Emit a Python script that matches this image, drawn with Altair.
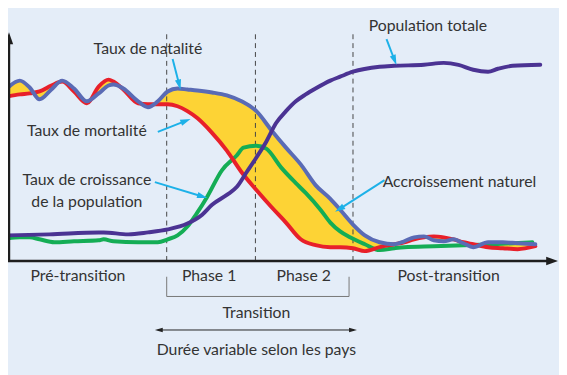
import altair as alt
import pandas as pd
import numpy as np

# ---------------- data (time in arbitrary units, level = rate height) ----------------
t_rates = [8, 20, 30, 40, 52, 63, 75, 88, 100, 110, 115, 125, 140, 150, 160, 170, 180, 190, 200,
           215, 230, 245, 260, 275, 290, 305, 320, 335, 345, 358, 370, 385, 400, 410, 420, 430,
           440, 450, 460, 470, 480, 495, 510, 525, 543]
natalite = [176, 183, 176, 164, 174, 183, 175, 162, 170, 178, 179, 175, 162, 156, 162, 172, 175, 174, 173,
            171, 168, 162, 152, 133, 115, 98, 77, 63, 52, 37, 26, 19, 17, 20, 24, 25,
            21, 20, 22, 18, 14, 19, 19, 18, 17]
mortalite = [167, 169, 170, 172, 178, 182, 172, 160, 177, 184, 182, 174, 160, 159, 159, 159, 157, 152, 145,
             130, 112, 90, 72, 55, 39, 22, 16, 14, 14, 13, 10, 14, 17, 19, 22, 24,
             25, 24, 22, 19, 17, 14, 13, 12, 15]

t_croissance = [8, 20, 30, 40, 55, 75, 100, 105, 115, 140, 160, 170, 180, 190, 200, 210, 225, 240, 247,
                260, 270, 285, 300, 310, 325, 335, 345, 355, 370, 385, 400, 410, 440, 470, 500, 540]
croissance = [23, 24, 24, 22, 19, 20, 21, 22, 20, 19, 19, 22, 26, 35, 49, 65, 92, 107, 115,
              117, 114, 95, 79, 69, 52, 39, 30, 24, 17, 11, 13, 14, 15, 16, 17, 19]

t_population = [8, 50, 100, 105, 130, 150, 170, 190, 205, 215, 230, 240, 250, 260, 270, 280, 290, 300,
                310, 320, 335, 345, 358, 385, 400, 430, 450, 465, 480, 495, 505, 520, 548]
population = [26, 27, 29, 29, 27, 29, 32, 38, 47, 57, 67, 75, 90, 105, 121, 140, 152, 162,
              169, 175, 183, 187, 192, 197, 198, 199, 201, 199, 194, 192, 195, 198, 199]

phase_bounds = [169, 259, 358]

labels = ["Taux de natalité", "Taux de mortalité", "Taux de croissance", "de la population",
          "Accroissement naturel", "Population totale", "Pré-transition", "Phase 1", "Phase 2",
          "Post-transition", "Transition", "Durée variable selon les pays"]
label_t = [150, 88, 88, 88, 466, 434, 79, 212, 308, 455, 260, 260]
label_v = [215, 132, 82, 60, 80, 238, -15, -15, -15, -15, -53, -90]

# pointer arrows: start -> tip
arr_t1 = [175, 160, 157, 390, 392]
arr_v1 = [205, 131, 80, 82, 225]
arr_t2 = [183, 193, 210, 340, 402]
arr_v2 = [174, 144, 64, 50, 199]

# ---------------- styling ----------------
FONT = "Lato"
TXT = "#333333"
BG = "#E4EDF8"
W, H = 559, 367
X = alt.Scale(domain=[8, 567], nice=False, zero=False)
Y = alt.Scale(domain=[-113, 254], nice=False, zero=False)


def enc(x, y, **kw):
    return dict(x=alt.X(f"{x}:Q", scale=X, axis=None),
                y=alt.Y(f"{y}:Q", scale=Y, axis=None), **kw)


def heads(t_tip, v_tip, t_from, v_from, back):
    t_tip = np.asarray(t_tip, float); v_tip = np.asarray(v_tip, float)
    dx = t_tip - np.asarray(t_from, float); dy = v_tip - np.asarray(v_from, float)
    n = np.hypot(dx, dy)
    ux, uy = dx / n, dy / n
    ang = np.degrees(np.arctan2(dx, dy)) % 360
    return t_tip - ux * back, v_tip - uy * back, ang


rates = pd.DataFrame({"t": t_rates, "nat": natalite, "mort": mortalite})
grow = pd.DataFrame({"t": t_croissance, "v": croissance})
pop = pd.DataFrame({"t": t_population, "v": population})

line_kw = dict(strokeWidth=4, interpolate="monotone", strokeCap="round", strokeJoin="round")

area = alt.Chart(rates).mark_area(color="#FDD335", interpolate="monotone").encode(
    **enc("t", "mort"), y2="nat:Q")
l_green = alt.Chart(grow).mark_line(color="#14AD55", **line_kw).encode(**enc("t", "v"))
l_red = alt.Chart(rates).mark_line(color="#E8202A", **line_kw).encode(**enc("t", "mort"))
l_blue = alt.Chart(rates).mark_line(color="#5A6BB5", **line_kw).encode(**enc("t", "nat"))
l_purple = alt.Chart(pop).mark_line(color="#4B3393", **line_kw).encode(**enc("t", "v"))

dash = pd.DataFrame({"t": phase_bounds, "v0": [0] * 3, "v1": [232] * 3})
dashed = alt.Chart(dash).mark_rule(color="#444444", strokeWidth=1, strokeDash=[5, 4]).encode(
    **enc("t", "v0"), y2="v1:Q")

# axes
axes_df = pd.DataFrame({"t": [9, 0], "v": [0, 0], "t2": [9, 557], "v2": [224, 0]})
axes = alt.Chart(axes_df).mark_rule(color="#1E1E1E", strokeWidth=2.5).encode(
    **enc("t", "v"), x2="t2:Q", y2="v2:Q")
ah_t, ah_v, ah_a = heads([9, 566], [232, 0], [9, 0], [0, 0], 6)
axis_heads = alt.Chart(pd.DataFrame({"t": ah_t, "v": ah_v, "a": ah_a})).mark_point(
    shape="M0,-1L-0.7,1L0.7,1Z", filled=True, color="#1E1E1E", size=144, opacity=1, strokeWidth=0
).encode(**enc("t", "v"), angle=alt.Angle("a:Q", scale=None))

# pointer arrows
ph_t, ph_v, ph_a = heads(arr_t2, arr_v2, arr_t1, arr_v1, 5)
arr_df = pd.DataFrame({"t": arr_t1, "v": arr_v1, "t2": ph_t, "v2": ph_v, "ht": ph_t, "hv": ph_v, "a": ph_a})
arr_lines = alt.Chart(arr_df).mark_rule(color="#1DB1E8", strokeWidth=2).encode(
    **enc("t", "v"), x2="t2:Q", y2="v2:Q")
arr_heads = alt.Chart(arr_df).mark_point(
    shape="M0,-1L-0.6,1L0.6,1Z", filled=True, color="#1DB1E8", size=110, opacity=1, strokeWidth=0
).encode(**enc("ht", "hv"), angle=alt.Angle("a:Q", scale=None))

# transition bracket
br = pd.DataFrame({"t": [169, 354, 169], "v": [-16, -16, -36], "t2": [169, 354, 354], "v2": [-36, -36, -36]})
bracket = alt.Chart(br).mark_rule(color="#777777", strokeWidth=1).encode(
    **enc("t", "v"), x2="t2:Q", y2="v2:Q")

# duration double arrow
dur = pd.DataFrame({"t": [160], "v": [-70], "t2": [359], "v2": [-70]})
dur_line = alt.Chart(dur).mark_rule(color="#222222", strokeWidth=1).encode(
    **enc("t", "v"), x2="t2:Q", y2="v2:Q")
dh_t, dh_v, dh_a = heads([157, 362], [-70, -70], [260, 260], [-70, -70], 4)
dur_heads = alt.Chart(pd.DataFrame({"t": dh_t, "v": dh_v, "a": dh_a})).mark_point(
    shape="M0,-1L-0.55,1L0.55,1Z", filled=True, color="#222222", size=64, opacity=1, strokeWidth=0
).encode(**enc("t", "v"), angle=alt.Angle("a:Q", scale=None))

texts = alt.Chart(pd.DataFrame({"t": label_t, "v": label_v, "s": labels})).mark_text(
    font=FONT, fontSize=16, color=TXT, align="center", baseline="middle"
).encode(**enc("t", "v"), text="s:N")

chart = alt.layer(
    area, dashed, l_green, l_red, l_blue, l_purple, axes, axis_heads,
    arr_lines, arr_heads, bracket, dur_line, dur_heads, texts
).properties(
    width=W, height=H, padding=0, autosize=alt.AutoSizeParams(type="none"), background=BG
).configure_view(strokeWidth=0)

chart.save("out.html", embed_options={"renderer": "svg", "actions": False})
